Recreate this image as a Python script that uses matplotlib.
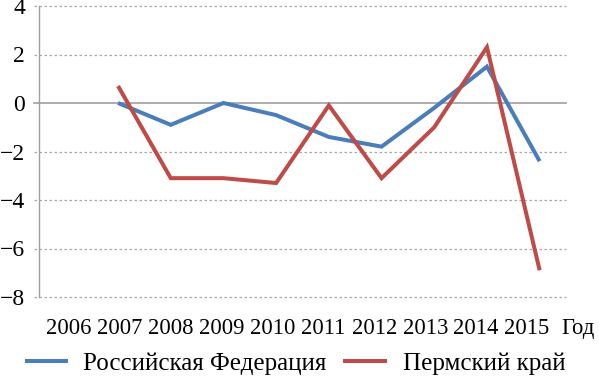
import matplotlib
matplotlib.use("Agg")
import matplotlib.pyplot as plt
from matplotlib.lines import Line2D
import numpy as np

years = ["2006", "2007", "2008", "2009", "2010", "2011", "2012", "2013", "2014", "2015"]
rf = [np.nan, 0.0, -0.9, 0.0, -0.5, -1.4, -1.8, -0.2, 1.5, -2.4]
perm = [np.nan, 0.7, -3.1, -3.1, -3.3, -0.1, -3.1, -1.0, 2.3, -6.9]
yticks = [4, 2, 0, -2, -4, -6, -8]
series_names = ["Российская Федерация", "Пермский край"]
x_unit = "Год"

plt.rcParams['font.family'] = ['Liberation Serif', 'DejaVu Serif']
plt.rcParams['axes.unicode_minus'] = True

W, H = 599, 376
fig = plt.figure(figsize=(W / 100, H / 100), dpi=100)
ax = fig.add_axes([39 / W, 1 - 297 / H, 527 / W, 291 / H])

x = np.arange(len(years))
blue = "#4A7EBB"
red = "#BE4B48"
ax.plot(x, rf, color=blue, lw=2.9, solid_joinstyle='miter', solid_capstyle='butt')
ax.plot(x, perm, color=red, lw=2.9, solid_joinstyle='miter', solid_capstyle='butt')

ax.set_xlim(-0.5, len(years) - 0.5)
ax.set_ylim(-8, 4)
ax.set_yticks(yticks)
ax.set_yticklabels([("\u2212" + str(-v)) if v < 0 else str(v) for v in yticks])
ext = -5 / 527
for v in yticks:
    if v == 0:
        ax.axhline(v, xmin=ext, color="#A0A0A0", lw=1.2, zorder=0, clip_on=False)
    else:
        ax.axhline(v, xmin=ext, color="#A8A8A8", lw=0.9, ls=(0, (2, 2)), zorder=0, clip_on=False)

# category label row (years + unit) evenly spaced as in the reference
label_pos = np.linspace(0.07, 8.76, len(years))
step = label_pos[1] - label_pos[0]
xpad = 15
ax.set_xticks(label_pos)
ax.set_xticklabels(years)
ax.tick_params(axis='x', length=0, labelsize=16.3, pad=xpad)
ax.tick_params(axis='y', length=0, labelsize=17, pad=10)
ax.annotate(x_unit, xy=(label_pos[-1] + step, 0), xycoords=ax.get_xaxis_transform(),
            xytext=(0, -xpad), textcoords='offset points',
            fontsize=16.3, ha='center', va='top', annotation_clip=False)
for s in ["top", "right", "bottom"]:
    ax.spines[s].set_visible(False)
ax.spines["left"].set_color("#A0A0A0")
ax.spines["left"].set_linewidth(1.0)

# legend drawn manually
ly = 1 - 361 / H
for (x0, x1, tx, col, name) in [(25, 68, 83, blue, series_names[0]),
                                  (343, 387, 403, red, series_names[1])]:
    fig.add_artist(Line2D([x0 / W, x1 / W], [ly, ly], transform=fig.transFigure,
                          color=col, lw=2.9, solid_capstyle='butt'))
    fig.text(tx / W, ly, name, fontsize=18, ha='left', va='center_baseline')

fig.savefig("out.png", dpi=100)
